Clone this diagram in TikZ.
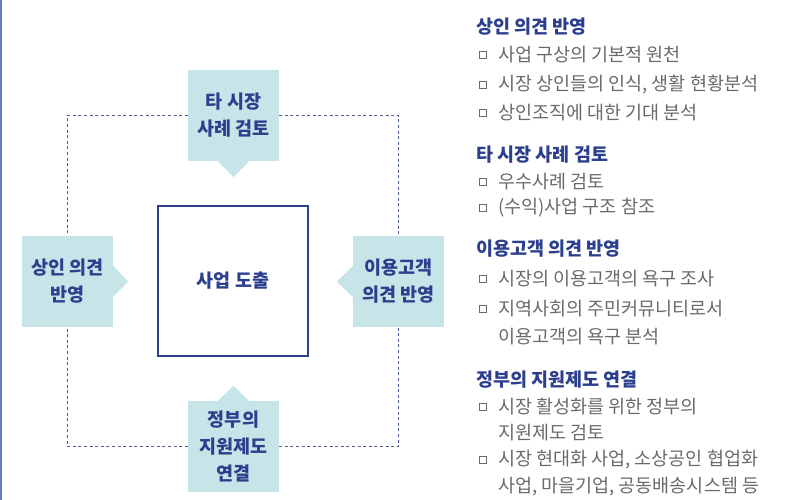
\documentclass[tikz,border=0pt]{standalone}
\usepackage{fontspec}
\setmainfont{Noto Sans CJK KR}
\usepackage{xcolor}
\usepackage{tikz}
\definecolor{navy}{HTML}{2B3F8E}
\definecolor{boxfill}{HTML}{C7E4E8}
\definecolor{dashcol}{HTML}{4F5C9C}
\definecolor{graytext}{HTML}{6A6A6A}
\definecolor{rulecol}{HTML}{6877B6}

\begin{document}
\begin{tikzpicture}[
  x=1pt, y=-1pt,
  topic/.style={rectangle, fill=boxfill, text=navy, inner sep=0pt,
                font=\fontsize{18.5}{27}\selectfont\bfseries, align=center,
                minimum width=91pt, minimum height=91pt},
  goal/.style={rectangle, draw=navy, line width=1.6pt, fill=white, text=navy,
               font=\fontsize{18.5}{27}\selectfont\bfseries, minimum size=150pt},
  pointer/.style={fill=boxfill},
  dashline/.style={draw=dashcol, line width=1.5pt, dash pattern=on 3pt off 2.6pt},
  head/.style={anchor=west, inner sep=0pt, text=navy,
               font=\fontsize{18.5}{20}\selectfont\bfseries},
  entry/.style={anchor=west, inner sep=0pt, text=graytext,
                font=\fontsize{18.5}{20}\selectfont},
  bul/.style={rectangle, draw=graytext, line width=0.8pt, inner sep=0pt,
              minimum size=6.5pt}
]
\useasboundingbox (0,0) rectangle (792,500);

% left rule
\draw[rulecol, line width=1.5pt] (1,0) -- (1,500);

% topic boxes around the centre
\node[topic] (tb) at (233.5,115.5) {타 시장\\사례 검토};
\node[topic] (lb) at (67.5,281.5)  {상인 의견\\반영};
\node[topic] (rb) at (398.5,281.5) {이용고객\\의견 반영};
\node[topic] (bb) at (233.5,446.5) {정부의\\지원제도\\연결};
\node[goal]  (cb) at (233,281)     {사업 도출};

% pointers towards the centre
\fill[pointer] (tb.south) ++(-15.5,0) -- ++(15.5,16) -- ++(15.5,-16) -- cycle;
\fill[pointer] (bb.north) ++(-15.5,0) -- ++(15.5,-15) -- ++(15.5,15) -- cycle;
\fill[pointer] (lb.east)  ++(0,-15.5) -- ++(15,15.5) -- ++(-15,15.5) -- cycle;
\fill[pointer] (rb.west)  ++(0,-15.5) -- ++(-16,15.5) -- ++(16,15.5) -- cycle;

% dashed frame
\draw[dashline] (tb) -| (lb);
\draw[dashline] (tb) -| (rb);
\draw[dashline] (bb) -| (lb);
\draw[dashline] (bb) -| (rb);

% right-hand notes
\node[head] (h1) at (476,27) {상인 의견 반영};
\node[bul] (b11) at (483,55) {};
\node[entry] (e11) at (498,55) {사업 구상의 기본적 원천};
\node[bul] (b12) at (483,85) {};
\node[entry] (e12) at (498,85) {시장 상인들의 인식, 생활 현황분석};
\node[bul] (b13) at (483,113) {};
\node[entry] (e13) at (498,113) {상인조직에 대한 기대 분석};

\node[head] (h2) at (476,155) {타 시장 사례 검토};
\node[bul] (b21) at (483,182) {};
\node[entry] (e21) at (498,182) {우수사례 검토};
\node[bul] (b22) at (483,208) {};
\node[entry] (e22) at (498,208) {(수익)사업 구조 참조};

\node[head] (h3) at (476,249) {이용고객 의견 반영};
\node[bul] (b31) at (483,279) {};
\node[entry] (e31) at (498,279) {시장의 이용고객의 욕구 조사};
\node[bul] (b32) at (483,309) {};
\node[entry] (e32) at (498,309) {지역사회의 주민커뮤니티로서};
\node[entry] (e33) at (498,337) {이용고객의 욕구 분석};

\node[head] (h4) at (476,380) {정부의 지원제도 연결};
\node[bul] (b41) at (483,407) {};
\node[entry] (e41) at (498,407) {시장 활성화를 위한 정부의};
\node[entry] (e42) at (498,433) {지원제도 검토};
\node[bul] (b43) at (483,460) {};
\node[entry] (e43) at (498,460) {시장 현대화 사업, 소상공인 협업화};
\node[entry] (e44) at (498,487) {사업, 마을기업, 공동배송시스템 등};

\end{tikzpicture}
\end{document}
